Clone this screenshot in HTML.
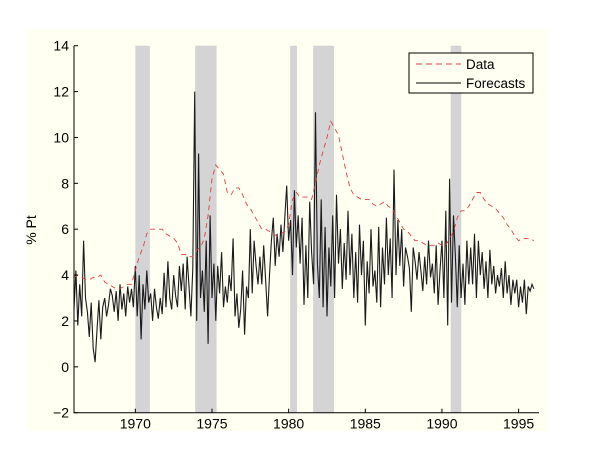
<!DOCTYPE html>
<html><head><meta charset="utf-8"><style>
html,body{margin:0;padding:0;background:#fff;width:600px;height:450px;overflow:hidden}
svg{display:block;font-family:"Liberation Sans",sans-serif}
</style></head><body>
<svg id="chart" width="600" height="450">
<rect x="26" y="29" width="521" height="402" fill="#fffff2"/>
<g id="bands"></g>
<g id="series"></g>
<g id="axes"></g>
<text x="36" y="230" font-size="14" text-anchor="middle" transform="rotate(-90 36 230)">% Pt</text>
<g>
<rect x="409" y="53" width="124" height="40" fill="#fffff2" stroke="#000" stroke-width="1"/>
<line x1="416" y1="64" x2="461" y2="64" stroke="#e04040" stroke-dasharray="6,4"/>
<text x="466" y="69" font-size="13.5">Data</text>
<line x1="416" y1="83" x2="461" y2="83" stroke="#000"/>
<text x="466" y="88" font-size="13.5">Forecasts</text>
</g>
</svg>
<script>
const xTicks=[1970,1975,1980,1985,1990,1995];
const yTicks=[-2,0,2,4,6,8,10,12,14];
const recessionStarts=[1970.0,1973.9,1980.1,1981.6,1990.57];
const recessionEnds=[1970.95,1975.3,1980.55,1982.96,1991.26];
const dataStart=1966.0, dataStep=0.25;
const dataValues=[3.9,4.0,3.9,3.8, 3.8,3.9,3.9,4.0, 3.7,3.6,3.5,3.4, 3.4,3.5,3.6,3.6,
4.2,4.8,5.2,5.8, 6.0,6.0,6.0,6.0, 5.8,5.7,5.6,5.4, 4.9,4.9,4.8,4.8,
5.1,5.2,5.6,6.6, 8.2,8.8,8.6,8.4, 7.6,7.5,7.8,7.8, 7.5,7.1,6.9,6.6,
6.3,6.0,6.0,5.9, 5.8,5.7,5.8,5.9, 6.2,7.3,7.6,7.4, 7.4,7.4,7.3,8.0,
8.8,9.4,10.0,10.7, 10.4,10.1,9.3,8.5, 7.8,7.5,7.4,7.3, 7.3,7.3,7.1,7.0,
7.1,7.2,7.0,6.9, 6.6,6.3,6.0,5.9, 5.7,5.5,5.5,5.4, 5.3,5.3,5.3,5.4,
5.3,5.3,5.6,5.9, 6.5,6.8,6.8,7.0, 7.3,7.6,7.6,7.3, 7.1,7.0,6.9,6.7,
6.5,6.2,6.0,5.7, 5.5,5.6,5.6,5.6, 5.5];
const fcStart=1966.0, fcStep=0.125;
const forecastValues=[2.5,4.2,1.8,3.6,2.2,5.5,3.0,2.4,
1.3,2.8,0.8,0.2,1.6,2.9,1.2,2.6,
3.0,2.2,2.7,3.4,3.1,2.4,3.3,2.0,
3.6,2.5,3.2,2.2,3.5,2.8,3.4,2.6,
4.4,2.2,4.0,1.2,3.6,2.5,4.2,2.8,
3.2,2.0,3.4,2.6,2.1,3.0,2.3,4.1,
2.6,4.6,3.0,2.5,4.0,3.1,2.6,4.4,
3.3,4.5,2.5,4.8,3.5,2.2,4.3,12.0,
2.0,9.3,3.0,4.2,2.4,5.5,1.0,6.6,
3.0,4.5,2.0,4.4,3.2,5.0,2.6,3.5,
2.8,4.0,3.3,5.6,2.2,3.2,1.7,2.5,
4.2,1.4,3.5,3.0,6.0,3.2,5.5,4.4,
3.6,4.8,3.6,5.3,3.8,2.2,4.0,5.5,
6.5,4.4,5.8,4.8,6.2,5.0,6.5,7.9,
5.5,6.4,4.0,7.7,5.2,6.6,4.5,6.5,
2.7,5.3,3.0,7.2,5.0,3.6,11.1,4.5,
3.0,7.3,2.6,6.1,2.2,5.2,3.5,6.6,
3.0,7.5,4.5,6.0,3.4,5.4,3.8,6.8,
4.0,5.8,3.0,5.0,2.8,6.2,4.0,5.5,
1.8,4.6,3.2,6.0,3.5,4.2,2.8,6.1,
2.6,5.2,3.6,6.5,4.0,5.6,3.0,8.6,
4.0,6.4,4.4,6.0,3.5,5.2,4.8,4.3,
2.4,5.2,4.6,3.8,5.0,4.2,3.3,4.8,
3.6,5.5,3.9,4.5,3.2,5.3,2.7,4.2,
5.5,3.0,6.8,1.8,8.2,2.8,6.6,4.8,
2.6,5.3,3.0,4.5,2.7,5.5,3.6,5.2,
3.6,5.8,3.0,5.5,4.0,5.0,3.4,4.6,
3.0,5.1,3.6,4.4,3.2,4.0,3.5,4.3,
3.0,4.6,3.2,4.0,2.7,3.8,3.2,3.8,
2.6,3.5,2.8,3.8,2.3,3.5,3.3,3.6,3.4];

const X0=74,X1=539,Y0=412.7,Y1=45.7,YR0=1966.0,YR1=1996.33,V0=-2,V1=14;
const sx=y=>X0+(y-YR0)/(YR1-YR0)*(X1-X0);
const sy=v=>Y0-(v-V0)/(V1-V0)*(Y0-Y1);
const NS='http://www.w3.org/2000/svg';
function mk(t,a,p){const e=document.createElementNS(NS,t);for(const k in a)e.setAttribute(k,a[k]);p.appendChild(e);return e;}
const bands=document.getElementById('bands'),series=document.getElementById('series'),axes=document.getElementById('axes');
recessionStarts.forEach((s,i)=>{
 const r=mk('rect',{x:sx(s),y:Y1,width:sx(recessionEnds[i])-sx(s),height:Y0-Y1,fill:'#d4d4d4'},bands);
 
 
});
const fp=forecastValues.map((v,i)=>sx(fcStart+i*fcStep).toFixed(1)+','+sy(v).toFixed(1)).join(' ');
const fl=mk('polyline',{points:fp,fill:'none',stroke:'#1a1a1a','stroke-width':1.1},series);


const dp=dataValues.map((v,i)=>sx(dataStart+i*dataStep).toFixed(1)+','+sy(v).toFixed(1)).join(' ');
const dl=mk('polyline',{points:dp,fill:'none',stroke:'#e04040','stroke-width':0.9,'stroke-dasharray':'5,4'},series);


const ax=mk('path',{d:`M${X0},${Y1}V${Y0}H${X1}`,fill:'none',stroke:'#000','stroke-width':1},axes);


yTicks.forEach(v=>{
 const y=sy(v);
 mk('line',{x1:X0,y1:y,x2:X0+4,y2:y,stroke:'#000'},axes);
 const t=mk('text',{x:X0-5,y:y+5,'font-size':14,'text-anchor':'end'},axes);
 t.textContent=v<0?'\u2212'+(-v):String(v);
 
 
});
xTicks.forEach(v=>{
 const x=sx(v);
 mk('line',{x1:x,y1:Y0,x2:x,y2:Y0-4,stroke:'#000'},axes);
 const t=mk('text',{x:x,y:Y0+16,'font-size':14,'text-anchor':'middle'},axes);
 t.textContent=v;
 
 
});
</script>
</body></html>
